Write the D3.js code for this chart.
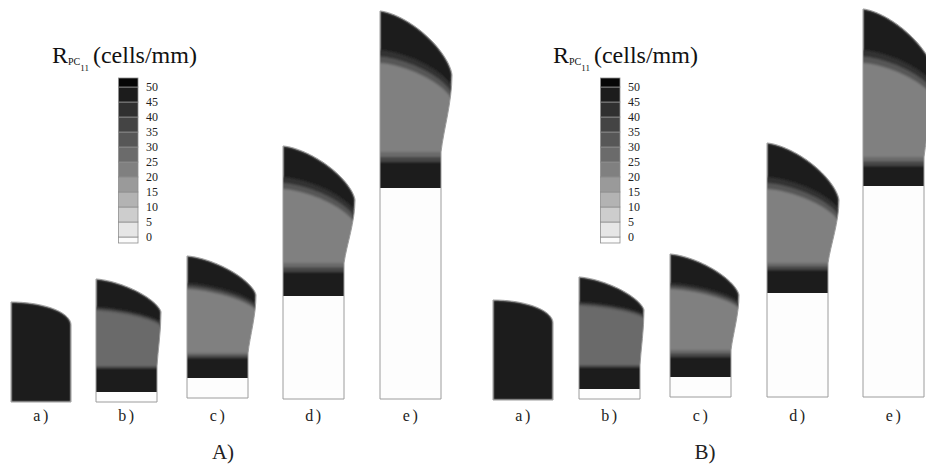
<!DOCTYPE html>
<html><head><meta charset="utf-8">
<script src="https://cdn.jsdelivr.net/npm/d3@7"></script>
<style>
html,body{margin:0;padding:0;background:#fff;}
svg{display:block;}
svg text{font-family:"Liberation Serif","Times New Roman","DejaVu Serif",serif;}
</style>
</head><body>
<svg id="chart" width="926" height="464"></svg>
<script>
// ---------- data ----------
const specimenLabels = ['a)', 'b)', 'c)', 'd)', 'e)'];
const panelLabels = ['A)', 'B)'];
const legendTicks = [0, 5, 10, 15, 20, 25, 30, 35, 40, 45, 50];
const levelThresholds = [0, 5, 10, 15, 20, 25, 30, 35, 40, 45, 50];
const levelGrays = ['#fbfbfb', '#e6e6e6', '#cdcdcd', '#b3b3b3', '#9a9a9a', '#808080',
                    '#6b6b6b', '#575757', '#444444', '#303030', '#1c1c1c', '#060606'];
const legendCells = [[-2, 0], [0, 5], [5, 10], [10, 15], [15, 20], [20, 25], [25, 30],
                     [30, 35], [35, 40], [40, 45], [45, 50], [50, 53]];

// specimen geometry (mm) and cell densities (cells/mm)
const boxWidth   = [6.0, 6.1, 6.1, 6.1, 6.1];
const curveExp   = [2, 1.5, 1.5, 1.5, 1.5];
const darkValue  = 47;
const topTransValues = [42, 32];

// panel A
const xPosA      = [0, 8.5, 17.6, 27.2, 36.9];
const bottomA    = [-0.2, -0.2, 0.2, 0.1, 0.1];
const heightA    = [10.0, 12.3, 14.2, 25.3, 38.8];
const shoulderA  = [7.7, 9.0, 10.3, 19.9, 32.4];
const bulgeA     = [0, 0.4, 0.8, 1.1, 1.1];
const topBandLA  = [null, 9.5, 11.5, 22.2, 34.9];
const topBandRA  = [null, 7.9, 9.3, 18.6, 31.1];
const topTransA  = [0, 0.4, 0.6, 1.2, 1.3];
const grayBotA   = [null, 3.6, 4.5, 13.6, 24.7];
const lowDarkA   = [null, 3.3, 4.0, 12.7, 23.7];
const whiteTopA  = [0, 1.0, 2.0, 10.3, 21.1];
const grayValA   = [47, 27, 22, 22, 22];
const lowT1A     = [null, 32, 27, 27, 27];
const lowT2A     = [null, 40, 37, 37, 37];

// panel B
const xPosB      = [0, 8.6, 17.7, 27.4, 37.0];
const bottomB    = [0, 0.1, 0.3, 0.3, 0.3];
const heightB    = [10.0, 12.2, 14.3, 25.4, 38.8];
const shoulderB  = [7.7, 8.9, 10.2, 19.7, 32.2];
const bulgeB     = [0, 0.4, 0.8, 1.1, 1.1];
const topBandLB  = [null, 9.7, 11.4, 22.0, 34.7];
const topBandRB  = [null, 8.4, 9.4, 18.6, 30.9];
const topTransB  = [0, 0.4, 0.6, 1.2, 1.3];
const grayBotB   = [null, 3.4, 4.7, 13.4, 24.0];
const lowDarkB   = [null, 3.1, 4.0, 12.7, 23.1];
const whiteTopB  = [0, 1.0, 2.0, 10.4, 21.1];
const grayValB   = [47, 27, 22, 22, 22];
const lowT1B     = [null, 32, 27, 27, 27];
const lowT2B     = [null, 40, 37, 37, 37];

// ---------- drawing ----------
const SERIF = '"Liberation Serif","Times New Roman","DejaVu Serif",serif';
const color = d3.scaleThreshold().domain(levelThresholds).range(levelGrays);
const svg = d3.select('#chart');
svg.append('rect').attr('width', 926).attr('height', 464).attr('fill', '#fff');
const defs = svg.append('defs');
defs.append('filter').attr('id', 'soft').attr('x', '-5%').attr('y', '-5%').attr('width', '110%').attr('height', '110%')
  .append('feGaussianBlur').attr('stdDeviation', 0.8);

const panels = [
  {label: panelLabels[0], origin: 11, titleX: 52, xPos: xPosA, bottom: bottomA, height: heightA, shoulder: shoulderA,
   bulge: bulgeA, tbL: topBandLA, tbR: topBandRA, tt: topTransA, grayBot: grayBotA, lowDark: lowDarkA,
   whiteTop: whiteTopA, grayVal: grayValA, lowT1: lowT1A, lowT2: lowT2A},
  {label: panelLabels[1], origin: 493, titleX: 553, xPos: xPosB, bottom: bottomB, height: heightB, shoulder: shoulderB,
   bulge: bulgeB, tbL: topBandLB, tbR: topBandRB, tt: topTransB, grayBot: grayBotB, lowDark: lowDarkB,
   whiteTop: whiteTopB, grayVal: grayValB, lowT1: lowT1B, lowT2: lowT2B}
];

function superF(t, e) {
  t = Math.max(0, Math.min(1, t));
  return 1 - Math.pow(Math.max(0, 1 - Math.pow(t, e)), 1 / e);
}
const line = d3.line();

panels.forEach((P, pi) => {
  const x = d3.scaleLinear().domain([0, 10]).range([P.origin, P.origin + 100]);
  const y = d3.scaleLinear().domain([0, 10]).range([400, 300]);
  const g = svg.append('g');

  specimenLabels.forEach((lab, i) => {
    const b = P.bottom[i];
    const L = x(P.xPos[i]), R = x(P.xPos[i] + boxWidth[i]), SX = x(P.xPos[i] + boxWidth[i] + P.bulge[i]);
    const yB = y(b), yT = y(b + P.height[i]), yS = y(b + P.shoulder[i]);
    const e = curveExp[i];

    const p = d3.path();
    p.moveTo(L, yB);
    p.lineTo(L, yT);
    for (let k = 1; k <= 80; k++) {
      const t = Math.sin((k / 80) * Math.PI / 2);
      p.lineTo(L + t * (SX - L), yT + (yS - yT) * superF(t, e));
    }
    if (P.bulge[i] > 0) {
      const yTap = y(b + P.grayBot[i]);
      p.bezierCurveTo(SX, yS + 0.35 * (yTap - yS), R + 0.25 * (SX - R), yTap - 0.3 * (yTap - yS), R, yTap);
    }
    p.lineTo(R, yB);
    p.closePath();
    const outline = p.toString();

    const cid = `clip-${pi}-${i}`;
    defs.append('clipPath').attr('id', cid).append('path').attr('d', outline);

    const sg = g.append('g').attr('clip-path', `url(#${cid})`);
    const inner = sg.append('g').attr('filter', 'url(#soft)');
    inner.append('path').attr('d', outline).attr('fill', color(darkValue));

    const curveBelow = (hL, hR) => {
      const pts = [];
      for (let k = 0; k <= 60; k++) {
        const t = k / 60;
        pts.push([L + t * (SX - L), y(b + hL + (hR - hL) * superF(t, 1.5))]);
      }
      pts.unshift([L - 4, pts[0][1]]);
      pts.push([SX + 4, pts[pts.length - 1][1]]);
      pts.push([SX + 4, yB + 4], [L - 4, yB + 4]);
      return line(pts) + 'Z';
    };
    const flatBelow = (h) => line([[L - 4, y(b + h)], [SX + 4, y(b + h)], [SX + 4, yB + 4], [L - 4, yB + 4]]) + 'Z';

    const layers = [];
    if (P.tbL[i] != null) {
      const tw = P.tt[i];
      layers.push([curveBelow(P.tbL[i], P.tbR[i]), topTransValues[0]]);
      layers.push([curveBelow(P.tbL[i] - tw / 2, P.tbR[i] - tw / 2), topTransValues[1]]);
      layers.push([curveBelow(P.tbL[i] - tw, P.tbR[i] - tw), P.grayVal[i]]);
      layers.push([flatBelow(P.grayBot[i]), P.lowT1[i]]);
      layers.push([flatBelow((P.grayBot[i] + P.lowDark[i]) / 2), P.lowT2[i]]);
      layers.push([flatBelow(P.lowDark[i]), darkValue]);
    }
    layers.forEach(([d, v]) => inner.append('path').attr('d', d).attr('fill', color(v)));
    if (P.whiteTop[i] > 0) {
      sg.append('path').attr('d', flatBelow(P.whiteTop[i])).attr('fill', '#fdfdfd');
    }
    g.append('path').attr('d', outline).attr('fill', 'none').attr('stroke', '#9c9c9c').attr('stroke-width', 1);

    g.append('text').attr('x', x(P.xPos[i] + boxWidth[i] / 2) + 1).attr('y', 421)
      .attr('text-anchor', 'middle').attr('font-family', SERIF).attr('font-size', 16).attr('letter-spacing', 2.5)
      .attr('fill', '#222').text(lab);
  });

  g.append('text').attr('x', x(21.2)).attr('y', 459).attr('text-anchor', 'middle')
    .attr('font-family', SERIF).attr('font-size', 21).attr('fill', '#222').text(P.label);

  // legend
  const lx = x(10.75);
  const ly = d3.scaleLinear().domain([0, 50]).range([237, 87]);
  const lg = g.append('g');
  lg.selectAll('rect.cell').data(legendCells).join('rect').attr('class', 'cell')
    .attr('x', lx).attr('width', 19.5)
    .attr('y', d => ly(d[1])).attr('height', d => ly(d[0]) - ly(d[1]))
    .attr('fill', d => color((d[0] + d[1]) / 2))
    .attr('stroke', '#8e8e8e').attr('stroke-width', 0.8);
  const ax = lg.append('g').attr('transform', `translate(${lx + 19.5},0)`)
    .call(d3.axisRight(ly).tickValues(legendTicks).tickSize(0).tickPadding(8).tickFormat(d3.format('d')));
  ax.attr('font-family', SERIF);
  ax.select('.domain').remove();
  ax.selectAll('text').attr('font-family', SERIF).attr('font-size', 12).attr('fill', '#222');

  const title = g.append('text').attr('x', P.titleX).attr('y', 63).attr('fill', '#111').attr('font-family', SERIF);
  title.append('tspan').attr('font-size', 24).text('R');
  title.append('tspan').attr('font-size', 10).attr('dy', 2).text('PC');
  title.append('tspan').attr('font-size', 9).attr('dy', 6).text('11');
  title.append('tspan').attr('font-size', 24).attr('dy', -8).attr('dx', 4).text('(cells/mm)');
});
</script>
</body></html>
